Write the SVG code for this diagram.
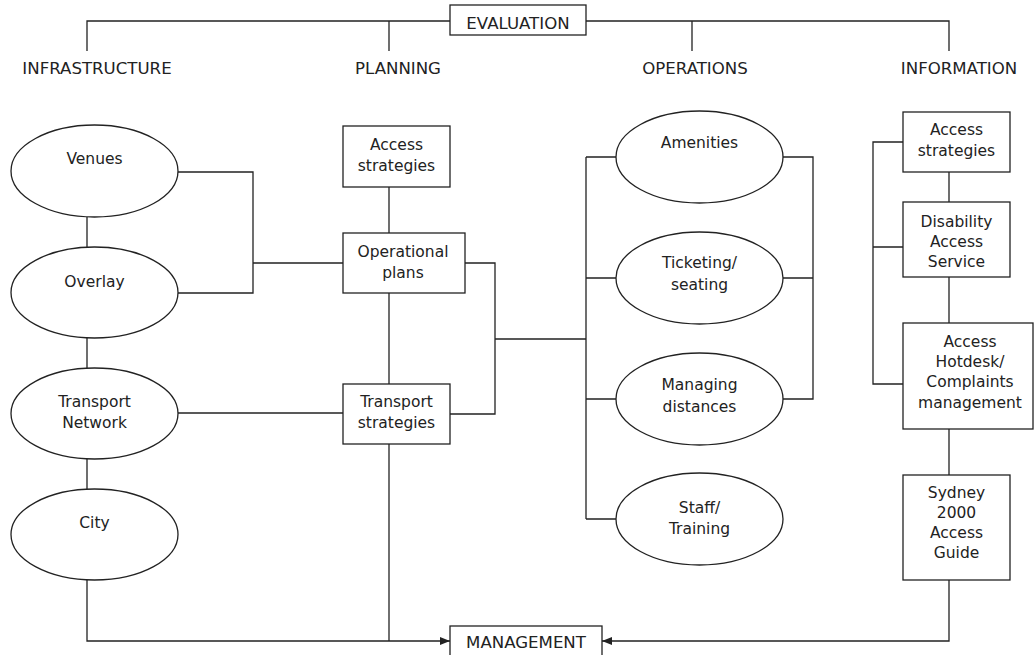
<svg xmlns="http://www.w3.org/2000/svg" width="1034" height="655" viewBox="0 0 1034 655">
<style>
.shape{fill:#fff;stroke:#222;stroke-width:1.3}
.ln{fill:none;stroke:#222;stroke-width:1.3}
.t{font-family:"DejaVu Sans","Liberation Sans",sans-serif;font-size:15.5px;text-anchor:middle;fill:#222}
.h{font-family:"DejaVu Sans","Liberation Sans",sans-serif;font-size:16.6px;text-anchor:middle;fill:#222}
</style>
<defs>
<marker id="arr" viewBox="0 0 10 8" refX="10" refY="4" markerWidth="10" markerHeight="8" markerUnits="userSpaceOnUse" orient="auto">
<path d="M0,0 L10,4 L0,8 z" fill="#222"/>
</marker>
</defs>
<g id="connectors">
<path class="ln" d="M87,51 V21 H450 M586,21 H949 V51 M389,21 V51 M692,21 V51"/>
<path class="ln" d="M87,217 V247 M87,338 V368 M87,459 V489"/>
<path class="ln" d="M178,172 H253 V293 H178 M253,263 H343"/>
<path class="ln" d="M389,187 V233 M389,293 V384"/>
<path class="ln" d="M465,263 H495 V414 H450 M495,339 H586"/>
<path class="ln" d="M178,413 H343"/>
<path class="ln" d="M586,157 V519 M586,157 H616 M586,278 H616 M586,399 H616 M586,519 H616"/>
<path class="ln" d="M783,157 H813 V399 H783 M783,278 H813"/>
<path class="ln" d="M949,172 V202 M949,277 V323 M949,429 V475"/>
<path class="ln" d="M903,142 H873 V384 H903 M873,247 H903"/>
<path class="ln" d="M87,580 V641 H450" marker-end="url(#arr)"/>
<path class="ln" d="M389,444 V641"/>
<path class="ln" d="M949,580 V641 H602" marker-end="url(#arr)"/>
</g>
<g id="evaluation"><rect class="shape" x="450" y="5" width="136" height="30"/><text class="h" x="518" y="29">EVALUATION</text></g>
<g id="infrastructure"><text class="h" x="97" y="74">INFRASTRUCTURE</text></g>
<g id="planning"><text class="h" x="398" y="74">PLANNING</text></g>
<g id="operations"><text class="h" x="695" y="74">OPERATIONS</text></g>
<g id="information"><text class="h" x="959" y="74">INFORMATION</text></g>
<g id="venues"><ellipse class="shape" cx="94.5" cy="171" rx="83.5" ry="46"/><text class="t" x="94.5" y="164">Venues</text></g>
<g id="overlay"><ellipse class="shape" cx="94.5" cy="292.5" rx="83.5" ry="45.5"/><text class="t" x="94.5" y="287">Overlay</text></g>
<g id="transport-network"><ellipse class="shape" cx="94.5" cy="413.5" rx="83.5" ry="45.5"/><text class="t" x="94.5" y="407">Transport</text><text class="t" x="94.5" y="428">Network</text></g>
<g id="city"><ellipse class="shape" cx="94.5" cy="534.5" rx="83.5" ry="45.5"/><text class="t" x="94.5" y="528">City</text></g>
<g id="access-strategies-plan"><rect class="shape" x="343" y="126" width="107" height="61"/><text class="t" x="396.5" y="150">Access</text><text class="t" x="396.5" y="171">strategies</text></g>
<g id="operational-plans"><rect class="shape" x="343" y="233" width="122" height="60"/><text class="t" x="403" y="257">Operational</text><text class="t" x="403" y="278">plans</text></g>
<g id="transport-strategies"><rect class="shape" x="343" y="384" width="107" height="60"/><text class="t" x="396.5" y="407">Transport</text><text class="t" x="396.5" y="428">strategies</text></g>
<g id="amenities"><ellipse class="shape" cx="699.5" cy="157" rx="83.5" ry="46"/><text class="t" x="699.5" y="148">Amenities</text></g>
<g id="ticketing"><ellipse class="shape" cx="699.5" cy="278" rx="83.5" ry="46"/><text class="t" x="699.5" y="268">Ticketing/</text><text class="t" x="699.5" y="290">seating</text></g>
<g id="managing"><ellipse class="shape" cx="699.5" cy="399" rx="83.5" ry="46"/><text class="t" x="699.5" y="390">Managing</text><text class="t" x="699.5" y="412">distances</text></g>
<g id="staff"><ellipse class="shape" cx="699.5" cy="519" rx="83.5" ry="46"/><text class="t" x="699.5" y="513">Staff/</text><text class="t" x="699.5" y="534">Training</text></g>
<g id="access-strategies-info"><rect class="shape" x="903" y="112" width="107" height="60"/><text class="t" x="956.5" y="135">Access</text><text class="t" x="956.5" y="156">strategies</text></g>
<g id="disability"><rect class="shape" x="903" y="202" width="107" height="75"/><text class="t" x="956.5" y="227">Disability</text><text class="t" x="956.5" y="247">Access</text><text class="t" x="956.5" y="267">Service</text></g>
<g id="hotdesk"><rect class="shape" x="903" y="323" width="130" height="106"/><text class="t" x="970" y="347">Access</text><text class="t" x="970" y="367">Hotdesk/</text><text class="t" x="970" y="387">Complaints</text><text class="t" x="970" y="408">management</text></g>
<g id="guide"><rect class="shape" x="903" y="475" width="107" height="105"/><text class="t" x="956.5" y="498">Sydney</text><text class="t" x="956.5" y="518">2000</text><text class="t" x="956.5" y="538">Access</text><text class="t" x="956.5" y="558">Guide</text></g>
<g id="management"><rect class="shape" x="450" y="626" width="152" height="40"/><text class="h" x="526" y="648">MANAGEMENT</text></g>
</svg>
